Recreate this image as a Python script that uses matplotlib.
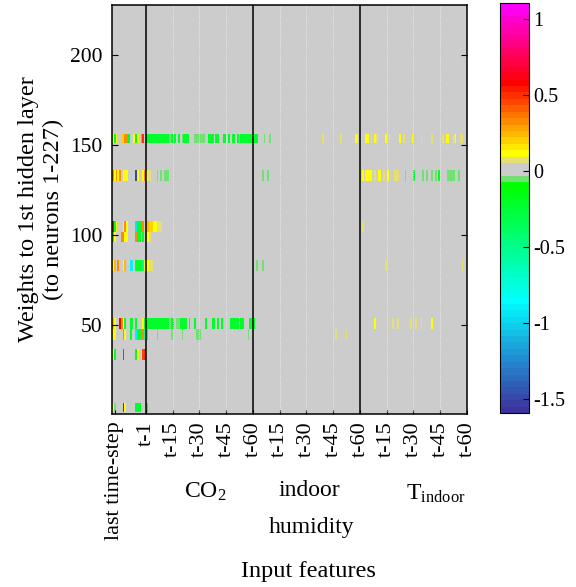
import numpy as np
import matplotlib
matplotlib.use("Agg")
from matplotlib import pyplot as plt
from matplotlib.colors import ListedColormap

plt.rcParams['font.family'] = ['Liberation Serif', 'DejaVu Serif']
plt.rcParams['mathtext.fontset'] = 'custom'
plt.rcParams['mathtext.rm'] = 'Liberation Serif'
plt.rcParams['mathtext.it'] = 'Liberation Serif:italic'

# matrix size: neurons x input features (19 last time-step + 3 x 60 lags)
n_neurons = 227
n_last = 19
n_lags = 60
n_cols = n_last + 3 * n_lags

# bands of neurons (first row, last row) and nonzero weights (first col, last col, value)
rows_a = (151, 155)
seg_a = [(1, 1, 0.13), (2, 2, -0.2), (3, 3, 0.13), (6, 7, 0.22), (8, 9, 0.33), (10, 10, -0.2),
         (13, 13, 0.13), (14, 14, -0.2), (15, 15, 0.13), (17, 17, 0.33), (18, 18, 0.5),
         (20, 32, -0.2), (33, 33, -0.05), (34, 34, -0.2), (36, 36, -0.2), (38, 38, -0.2),
         (40, 40, -0.05), (41, 43, -0.2), (47, 52, -0.05), (55, 57, -0.2), (59, 60, -0.2),
         (63, 64, -0.2), (66, 66, -0.2), (68, 69, -0.2), (71, 71, -0.2), (73, 79, -0.2),
         (80, 82, -0.2), (86, 86, -0.05), (89, 89, -0.05), (119, 119, 0.075), (129, 129, 0.075),
         (137, 138, 0.13), (143, 144, 0.13), (146, 146, 0.075), (148, 148, 0.13), (149, 149, 0.075),
         (154, 154, 0.13), (156, 156, 0.075), (162, 162, 0.13), (164, 164, 0.075), (169, 169, 0.13),
         (174, 174, 0.075), (180, 180, 0.075), (186, 186, 0.075), (188, 189, 0.13), (192, 192, 0.075),
         (193, 193, 0.13), (196, 197, 0.075)]

rows_b = (130, 135)
seg_b = [(1, 1, 0.33), (2, 2, 0.13), (3, 3, 0.33), (4, 4, 0.13), (5, 5, 0.33), (7, 7, 0.13),
         (8, 9, 0.13), (14, 14, -1.5), (15, 15, 0.13), (18, 18, 0.13), (19, 19, 0.33),
         (20, 20, 0.13), (21, 22, 0.075), (26, 26, -0.05), (28, 28, -0.05), (30, 32, -0.05),
         (85, 85, -0.05), (88, 88, -0.05),
         (141, 141, 0.13), (143, 146, 0.13), (148, 148, 0.075), (150, 151, 0.13), (153, 153, 0.075),
         (155, 155, 0.13), (159, 161, 0.075), (165, 165, -0.05), (170, 170, -0.2), (175, 175, -0.05),
         (177, 177, -0.05), (180, 180, -0.05), (182, 182, -0.05), (184, 184, -0.2), (189, 192, -0.05),
         (195, 195, -0.05)]

rows_c1 = (102, 107)
seg_c1 = [(1, 1, 0.6), (2, 2, -0.2), (3, 3, 0.13), (7, 7, 0.13), (8, 8, 0.33), (9, 9, 0.13),
          (14, 14, -0.95), (15, 17, -0.2), (18, 18, 0.33), (20, 21, 0.25), (22, 23, 0.2),
          (24, 25, 0.13), (26, 28, 0.075), (141, 141, 0.075)]

rows_c2 = (96, 101)
seg_c2 = [(1, 1, -0.2), (2, 2, 0.13), (6, 7, 0.33), (8, 9, 0.13), (14, 14, 0.33), (15, 16, -0.2),
          (17, 17, 0.13), (18, 18, -0.2), (20, 21, 0.13), (22, 22, 0.075)]

rows_d = (80, 85)
seg_d = [(1, 1, 0.13), (2, 2, 0.25), (4, 4, 0.33), (7, 7, 0.13), (8, 8, 0.25), (11, 12, -0.9),
         (14, 17, -0.2), (18, 18, -0.5), (19, 19, 0.13), (20, 21, 0.13), (22, 23, 0.075),
         (82, 82, -0.05), (85, 85, -0.05), (154, 154, 0.075), (197, 197, 0.075)]

rows_e = (48, 53)
seg_e = [(1, 1, 0.25), (2, 2, 0.13), (5, 5, 0.6), (6, 6, 0.33), (7, 7, 0.13), (8, 8, -0.2),
         (11, 12, -0.2), (14, 14, -0.2), (18, 18, 0.13), (19, 19, -0.2), (20, 32, -0.2),
         (33, 33, -0.05), (34, 35, -0.2), (37, 38, -0.05), (39, 42, -0.2), (44, 44, -0.2),
         (47, 47, -0.2), (53, 53, -0.2), (57, 58, -0.2), (60, 60, -0.2), (62, 62, -0.2),
         (67, 70, -0.2), (71, 71, -0.2), (73, 74, -0.2), (78, 80, -0.2),
         (148, 148, 0.13), (158, 158, 0.075), (161, 161, 0.075), (168, 168, 0.075),
         (171, 171, 0.075), (174, 174, 0.075), (180, 180, 0.13)]

rows_f = (42, 47)
seg_f = [(1, 2, 0.13), (7, 7, 0.33), (8, 8, 0.13), (11, 11, -0.2), (14, 14, -0.9), (15, 16, -0.2),
         (17, 18, 0.33), (19, 19, -0.6), (20, 20, -0.4), (26, 26, -0.05), (34, 34, -0.05),
         (40, 40, -0.05), (48, 50, -0.05), (77, 77, -0.05), (126, 126, 0.075), (132, 132, 0.075)]

rows_g = (31, 36)
seg_g = [(1, 1, 0.13), (2, 2, -0.2), (7, 7, 1.0), (14, 14, -0.2), (15, 15, 0.13), (18, 18, 0.45),
         (19, 19, 0.5)]

rows_h = (2, 6)
seg_h = [(1, 1, 0.13), (2, 2, -0.05), (7, 7, 0.6), (8, 8, 0.13), (14, 14, -0.2), (15, 16, -0.2),
         (20, 20, -0.2)]

bands = [(rows_a, seg_a), (rows_b, seg_b), (rows_c1, seg_c1), (rows_c2, seg_c2),
         (rows_d, seg_d), (rows_e, seg_e), (rows_f, seg_f), (rows_g, seg_g), (rows_h, seg_h)]

weights = np.zeros((n_neurons, n_cols))
for (r0, r1), segs in bands:
    for c0, c1, v in segs:
        weights[r0 - 1:r1, c0 - 1:c1] = v

# x tick labels
lag_labels = ["t-1", "t-15", "t-30", "t-45", "t-60"]
group_labels = [r"CO$_2$", "indoor", "humidity", r"T$_{\mathrm{indoor}}$"]

# colormap: 64 discrete colours with a grey band at zero
clim = (-1.59, 1.107)
anchor_bin = [0, 8, 17, 35, 40, 45, 51, 63]
anchor_rgb = [(0.24, 0.20, 0.62), (0.13, 0.55, 0.82), (0.0, 1.0, 1.0), (0.0, 1.0, 0.0),
              (1.0, 1.0, 0.0), (1.0, 0.55, 0.0), (1.0, 0.0, 0.0), (1.0, 0.0, 1.0)]
idx = np.arange(64)
cols = np.stack([np.interp(idx, anchor_bin, [c[k] for c in anchor_rgb]) for k in range(3)], axis=1)
cols[36] = (0.45, 0.88, 0.45)
cols[37] = (0.8, 0.8, 0.8)
cols[38] = (0.8, 0.8, 0.8)
cols[39] = (0.90, 0.88, 0.45)
cmap = ListedColormap(cols)

fig = plt.figure(figsize=(5.76, 5.87), dpi=100)
ax = fig.add_axes([0.1944, 0.2947, 0.6163, 0.6968])
cax = fig.add_axes([0.868, 0.2964, 0.050, 0.699])

im = ax.imshow(weights, origin="lower", aspect="auto", cmap=cmap, vmin=clim[0], vmax=clim[1],
               extent=[0.5, n_cols + 0.5, 0.5, n_neurons + 0.5], interpolation="nearest")

# block separators
for b in range(1, 4):
    ax.axvline(n_last + 0.5 + (b - 1) * n_lags, color="black", lw=1.1)

# ticks
xt = [2.0]
xl = ["last time-step"]
for b in range(3):
    start = n_last + 0.5 + b * n_lags
    for k, lab in enumerate(lag_labels):
        if b > 0 and k == 0:
            continue
        xt.append(start + (15 * k if k > 0 else 0))
        xl.append(lab)
ax.set_xticks(xt)
ax.set_xticklabels(xl, rotation=90, fontsize=16)
for x in xt:
    if x > 3 and (x - n_last - 0.5) % n_lags != 0:
        ax.axvline(x, color="white", lw=0.6, ls=":", alpha=0.8)

ax.set_yticks([50, 100, 150, 200])
ax.tick_params(axis="y", direction="in", right=True, labelsize=15.5, length=4, pad=7)
ax.tick_params(axis="x", direction="in", length=3, pad=5)
ax.set_xlim(0.5, n_cols + 0.5)
ax.set_ylim(0.5, n_neurons + 0.5)
for s in ax.spines.values():
    s.set_linewidth(1.1)

cb = fig.colorbar(im, cax=cax)
cb.set_ticks([-1.5, -1, -0.5, 0, 0.5, 1])
cb.set_ticklabels(["-1.5", "-1", "-0.5", "0", "0.5", "1"])
cax.tick_params(direction="in", length=4, labelsize=14.5)
cb.outline.set_linewidth(0.8)

# group labels and axis titles
fig.text(205 / 576, 1 - 492 / 587, group_labels[0], ha="center", va="center", fontsize=17)
fig.text(309 / 576, 1 - 490 / 587, group_labels[1], ha="center", va="center", fontsize=17)
fig.text(312 / 576, 1 - 527 / 587, group_labels[2], ha="center", va="center", fontsize=17)
fig.text(436 / 576, 1 - 494 / 587, group_labels[3], ha="center", va="center", fontsize=17)
fig.text(308 / 576, 1 - 572 / 587, "Input features", ha="center", va="center", fontsize=17.5)
fig.text(41 / 576, 1 - 209.5 / 587, "Weights to 1st hidden layer\n(to neurons 1-227)",
         rotation=90, ha="center", va="center", fontsize=17.5, linespacing=1.2)

fig.savefig("out.png", dpi=100)
